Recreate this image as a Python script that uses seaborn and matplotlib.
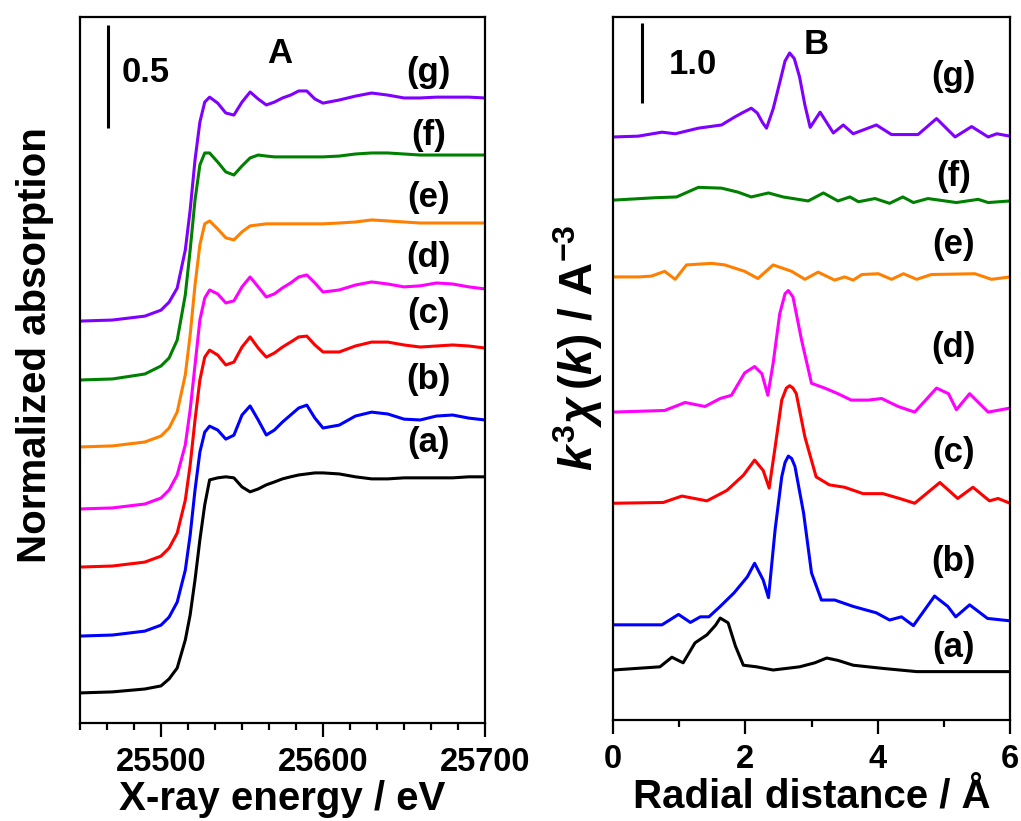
import numpy as np
import pandas as pd
import matplotlib
matplotlib.use("Agg")
import matplotlib.pyplot as plt
from matplotlib.ticker import MultipleLocator, FixedLocator
import seaborn as sns

# ---------------- data ----------------
samples = ["(a)", "(b)", "(c)", "(d)", "(e)", "(f)", "(g)"]
colors = ["#000000", "#0000FF", "#FF0000", "#FF00FF", "#FF8000", "#008000", "#8000FF"]

# XANES (panel A): normalized absorption vs X-ray energy
energy_ev = [25450, 25470, 25490, 25500, 25505, 25510, 25515, 25518, 25521, 25524,
             25527, 25530, 25535, 25540, 25545, 25550, 25555, 25560, 25565, 25570,
             25575, 25580, 25585, 25590, 25595, 25600, 25610, 25620, 25630, 25640,
             25650, 25660, 25670, 25680, 25690, 25700]

xanes_a = [0, 0.005, 0.019, 0.034, 0.068, 0.121, 0.257, 0.379, 0.549, 0.743,
           0.913, 1.034, 1.044, 1.049, 1.044, 1.000, 0.976, 0.990, 1.010, 1.024,
           1.039, 1.049, 1.058, 1.063, 1.068, 1.068, 1.063, 1.049, 1.039, 1.039,
           1.044, 1.044, 1.044, 1.044, 1.049, 1.049]
xanes_b = [0, 0.005, 0.024, 0.053, 0.092, 0.165, 0.320, 0.490, 0.709, 0.893,
           0.990, 1.019, 1.000, 0.956, 0.975, 1.073, 1.117, 1.049, 0.976, 1.000,
           1.039, 1.073, 1.107, 1.121, 1.058, 1.010, 1.024, 1.068, 1.087, 1.078,
           1.053, 1.049, 1.068, 1.073, 1.058, 1.049]
xanes_c = [0, 0.005, 0.024, 0.053, 0.092, 0.165, 0.325, 0.495, 0.714, 0.908,
           1.019, 1.053, 1.029, 0.981, 0.995, 1.068, 1.117, 1.063, 1.019, 1.039,
           1.068, 1.092, 1.117, 1.121, 1.078, 1.044, 1.044, 1.073, 1.092, 1.092,
           1.078, 1.068, 1.073, 1.078, 1.073, 1.063]
xanes_d = [0, 0.005, 0.024, 0.053, 0.092, 0.165, 0.311, 0.481, 0.699, 0.917,
           1.024, 1.063, 1.044, 1.000, 1.010, 1.078, 1.126, 1.078, 1.029, 1.044,
           1.073, 1.097, 1.126, 1.136, 1.097, 1.053, 1.063, 1.087, 1.102, 1.092,
           1.078, 1.083, 1.097, 1.092, 1.078, 1.068]
xanes_e = [0, 0.005, 0.024, 0.053, 0.092, 0.170, 0.350, 0.544, 0.786, 0.981,
           1.083, 1.097, 1.058, 1.015, 1.005, 1.044, 1.073, 1.078, 1.083, 1.083,
           1.083, 1.083, 1.083, 1.083, 1.083, 1.083, 1.087, 1.092, 1.102, 1.097,
           1.092, 1.087, 1.087, 1.087, 1.087, 1.087]
xanes_f = [0, 0.005, 0.029, 0.068, 0.107, 0.194, 0.413, 0.631, 0.874, 1.044,
           1.102, 1.102, 1.058, 1.010, 0.995, 1.039, 1.078, 1.092, 1.087, 1.083,
           1.083, 1.083, 1.083, 1.083, 1.083, 1.083, 1.087, 1.097, 1.102, 1.102,
           1.097, 1.092, 1.092, 1.092, 1.092, 1.092]
xanes_g = [0, 0.005, 0.024, 0.053, 0.092, 0.160, 0.345, 0.539, 0.782, 0.966,
           1.063, 1.087, 1.058, 1.010, 1.000, 1.063, 1.112, 1.078, 1.049, 1.063,
           1.083, 1.097, 1.117, 1.117, 1.078, 1.058, 1.073, 1.092, 1.107, 1.097,
           1.083, 1.083, 1.087, 1.087, 1.087, 1.083]
xanes_offsets = [0.146, 0.422, 0.757, 1.039, 1.340, 1.665, 1.951]

# EXAFS Fourier transforms (panel B): |k^3 chi(k)| vs radial distance
r_a = [0.0, 0.71, 0.89, 1.06, 1.24, 1.42, 1.55, 1.62, 1.74, 1.85, 1.97, 2.17,
       2.42, 2.82, 3.05, 3.23, 3.40, 3.63, 4.08, 4.59, 6.0]
ft_a = [0.0, 0.04, 0.16, 0.09, 0.34, 0.44, 0.56, 0.65, 0.59, 0.30, 0.06, 0.04,
        0.0, 0.04, 0.09, 0.15, 0.12, 0.06, 0.02, -0.02, -0.02]
r_b = [0.0, 0.74, 0.99, 1.17, 1.32, 1.45, 1.62, 1.83, 2.03, 2.14, 2.27, 2.35,
       2.45, 2.55, 2.60, 2.65, 2.70, 2.75, 2.88, 3.00, 3.15, 3.35, 3.63, 3.98,
       4.18, 4.36, 4.54, 4.86, 5.06, 5.18, 5.39, 5.66, 6.0]
ft_b = [0.0, 0.0, 0.13, 0.03, 0.10, 0.10, 0.23, 0.40, 0.60, 0.77, 0.56, 0.34,
        1.19, 1.85, 2.03, 2.11, 2.08, 1.98, 1.40, 0.65, 0.31, 0.31, 0.23, 0.15,
        0.06, 0.10, -0.01, 0.36, 0.23, 0.10, 0.25, 0.08, 0.05]
r_c = [0.0, 0.76, 1.04, 1.42, 1.72, 1.97, 2.14, 2.27, 2.36, 2.45, 2.55, 2.62,
       2.67, 2.72, 2.77, 2.90, 3.07, 3.27, 3.50, 3.78, 4.08, 4.33, 4.56, 4.94,
       5.21, 5.44, 5.69, 5.82, 6.0]
ft_c = [0.0, 0.01, 0.09, 0.03, 0.16, 0.35, 0.54, 0.41, 0.19, 0.70, 1.29, 1.44,
        1.47, 1.44, 1.37, 0.83, 0.33, 0.23, 0.20, 0.12, 0.12, 0.06, 0.0, 0.26,
        0.06, 0.20, 0.03, 0.06, 0.0]
r_d = [0.0, 0.78, 1.09, 1.39, 1.62, 1.79, 1.99, 2.14, 2.25, 2.34, 2.42, 2.52,
       2.60, 2.65, 2.72, 2.85, 3.00, 3.20, 3.40, 3.60, 3.86, 4.06, 4.31, 4.56,
       4.89, 5.07, 5.19, 5.39, 5.67, 6.0]
ft_d = [0.0, 0.02, 0.12, 0.07, 0.17, 0.21, 0.49, 0.57, 0.48, 0.21, 0.61, 1.23,
        1.48, 1.52, 1.44, 0.90, 0.36, 0.30, 0.23, 0.15, 0.15, 0.17, 0.07, 0.0,
        0.30, 0.23, 0.03, 0.23, 0.0, 0.05]
r_e = [0.0, 0.38, 0.58, 0.78, 0.94, 1.11, 1.49, 1.69, 1.99, 2.19, 2.42, 2.70,
       2.90, 3.10, 3.35, 3.50, 3.63, 3.76, 4.01, 4.21, 4.39, 4.59, 4.81, 5.47,
       5.72, 6.0]
ft_e = [0.0, 0.0, 0.01, 0.07, -0.03, 0.15, 0.17, 0.15, 0.07, -0.02, 0.15, 0.07,
        -0.03, 0.06, -0.04, 0.0, -0.04, 0.03, 0.04, -0.03, 0.04, -0.03, 0.03, 0.04,
        -0.03, 0.0]
r_f = [0.0, 0.63, 0.96, 1.29, 1.64, 1.89, 2.09, 2.35, 2.57, 2.95, 3.18, 3.40,
       3.58, 3.71, 3.96, 4.18, 4.38, 4.54, 4.76, 5.19, 5.52, 5.67, 6.0]
ft_f = [0.0, 0.03, 0.04, 0.16, 0.15, 0.10, 0.04, 0.09, 0.04, -0.01, 0.09, -0.01,
        0.04, -0.02, 0.02, -0.04, 0.04, -0.03, 0.02, -0.03, 0.01, -0.03, -0.01]
r_g = [0.0, 0.38, 0.74, 0.94, 1.29, 1.64, 1.84, 1.95, 2.09, 2.18, 2.26, 2.32,
       2.42, 2.52, 2.60, 2.67, 2.74, 2.82, 2.90, 2.98, 3.13, 3.33, 3.48, 3.63,
       3.98, 4.21, 4.61, 4.89, 5.17, 5.42, 5.67, 5.80, 6.0]
ft_g = [0.0, 0.01, 0.06, 0.04, 0.11, 0.15, 0.25, 0.30, 0.36, 0.30, 0.18, 0.11,
        0.35, 0.68, 0.95, 1.05, 0.98, 0.75, 0.40, 0.12, 0.31, 0.05, 0.15, 0.04,
        0.15, 0.03, 0.03, 0.23, 0.0, 0.13, 0.0, 0.04, 0.01]
ft_offsets = [0.625, 1.19, 2.71, 3.85, 5.54, 6.50, 7.29]

# curve labels
label_y_a = [1.36, 1.665, 1.99, 2.26, 2.55, 2.85, 3.16]
label_y_b = [0.91, 1.98, 3.35, 4.66, 5.94, 6.79, 8.04]

# ---------------- tidy frames ----------------
xanes_sets = [xanes_a, xanes_b, xanes_c, xanes_d, xanes_e, xanes_f, xanes_g]
df_a = pd.concat([
    pd.DataFrame({"energy": energy_ev, "mu": np.array(v) + off, "sample": s})
    for v, off, s in zip(xanes_sets, xanes_offsets, samples)
], ignore_index=True)

r_sets = [r_a, r_b, r_c, r_d, r_e, r_f, r_g]
ft_sets = [ft_a, ft_b, ft_c, ft_d, ft_e, ft_f, ft_g]
df_b = pd.concat([
    pd.DataFrame({"r": r, "ft": np.array(v) + off, "sample": s})
    for r, v, off, s in zip(r_sets, ft_sets, ft_offsets, samples)
], ignore_index=True)

# ---------------- style ----------------
sns.set_theme(style="ticks")
plt.rcParams["font.family"] = ["Liberation Sans", "DejaVu Sans"]
plt.rcParams["font.weight"] = "bold"
plt.rcParams["axes.labelweight"] = "bold"
plt.rcParams["axes.linewidth"] = 1.6
plt.rcParams["text.color"] = "black"
plt.rcParams["axes.labelcolor"] = "black"
plt.rcParams["xtick.color"] = "black"
plt.rcParams["ytick.color"] = "black"
plt.rcParams["axes.edgecolor"] = "black"
plt.rcParams["mathtext.fontset"] = "custom"
plt.rcParams["mathtext.rm"] = "Liberation Sans:bold"
plt.rcParams["mathtext.bf"] = "Liberation Sans:bold"
plt.rcParams["mathtext.it"] = "Liberation Sans:italic:bold"

palette = dict(zip(samples, colors))
W, H = 1021, 821
fig = plt.figure(figsize=(W / 100, H / 100), dpi=100)
ax1 = fig.add_axes([80 / W, 1 - 723 / H, 405 / W, 706 / H])
ax2 = fig.add_axes([613 / W, 1 - 720 / H, 397 / W, 703 / H])

sns.lineplot(data=df_a, x="energy", y="mu", hue="sample", palette=palette,
             estimator=None, sort=False, legend=False, lw=2.2, ax=ax1)
sns.lineplot(data=df_b, x="r", y="ft", hue="sample", palette=palette,
             estimator=None, sort=False, legend=False, lw=2.2, ax=ax2)

for ax in (ax1, ax2):
    for sp in ax.spines.values():
        sp.set_visible(True)
        sp.set_linewidth(1.6)
        sp.set_color("black")
    ax.set_yticks([])
    ax.tick_params(axis="x", which="major", direction="out", length=10, width=1.6,
                   labelsize=23.5, pad=7, colors="black")
    ax.tick_params(axis="x", which="minor", direction="out", length=5, width=1.6,
                   colors="black")
    for lab in ax.get_xticklabels():
        lab.set_fontweight("bold")

# panel A
ax1.set_xlim(25450, 25700)
ax1.set_ylim(0, 3.427)
ax1.xaxis.set_major_locator(FixedLocator([25500, 25600, 25700]))
ax1.xaxis.set_minor_locator(MultipleLocator(100 / 6))
ax1.set_xlabel("X-ray energy / eV", fontsize=29, fontweight="bold", labelpad=2)
ax1.set_ylabel("")
ax1.text(-0.111, 0.535, "Normalized absorption", transform=ax1.transAxes,
         rotation=90, ha="center", va="center", fontsize=29, fontweight="bold")
for s, y in zip(samples, label_y_a):
    ax1.text(25665, y, s, ha="center", va="center", fontsize=25, fontweight="bold")
ax1.vlines(25467.3, 2.888, 3.388, color="black", lw=2.2)
ax1.text(25490.7, 3.16, "0.5", ha="center", va="center", fontsize=25, fontweight="bold")
ax1.text(25573, 3.25, "A", ha="center", va="center", fontsize=25, fontweight="bold")

# panel B
ax2.set_xlim(0, 6)
ax2.set_ylim(0, 8.79)
ax2.xaxis.set_major_locator(MultipleLocator(2))
ax2.xaxis.set_minor_locator(MultipleLocator(1))
ax2.set_xlabel("Radial distance / Å", fontsize=29, fontweight="bold", labelpad=2)
ax2.set_ylabel("")
ax2.text(-0.088, 0.53, r"$k^{\mathrm{3}}\chi\,(k)$ / A$^{\mathrm{-3}}$",
         transform=ax2.transAxes, rotation=90, ha="center", va="center",
         fontsize=33, fontweight="bold")
for s, y in zip(samples, label_y_b):
    ax2.text(5.15, y, s, ha="center", va="center", fontsize=25, fontweight="bold")
ax2.vlines(0.44, 7.71, 8.71, color="black", lw=2.2)
ax2.text(1.21, 8.2, "1.0", ha="center", va="center", fontsize=25, fontweight="bold")
ax2.text(3.07, 8.45, "B", ha="center", va="center", fontsize=25, fontweight="bold")

fig.savefig("out.png", dpi=100, facecolor="white")
